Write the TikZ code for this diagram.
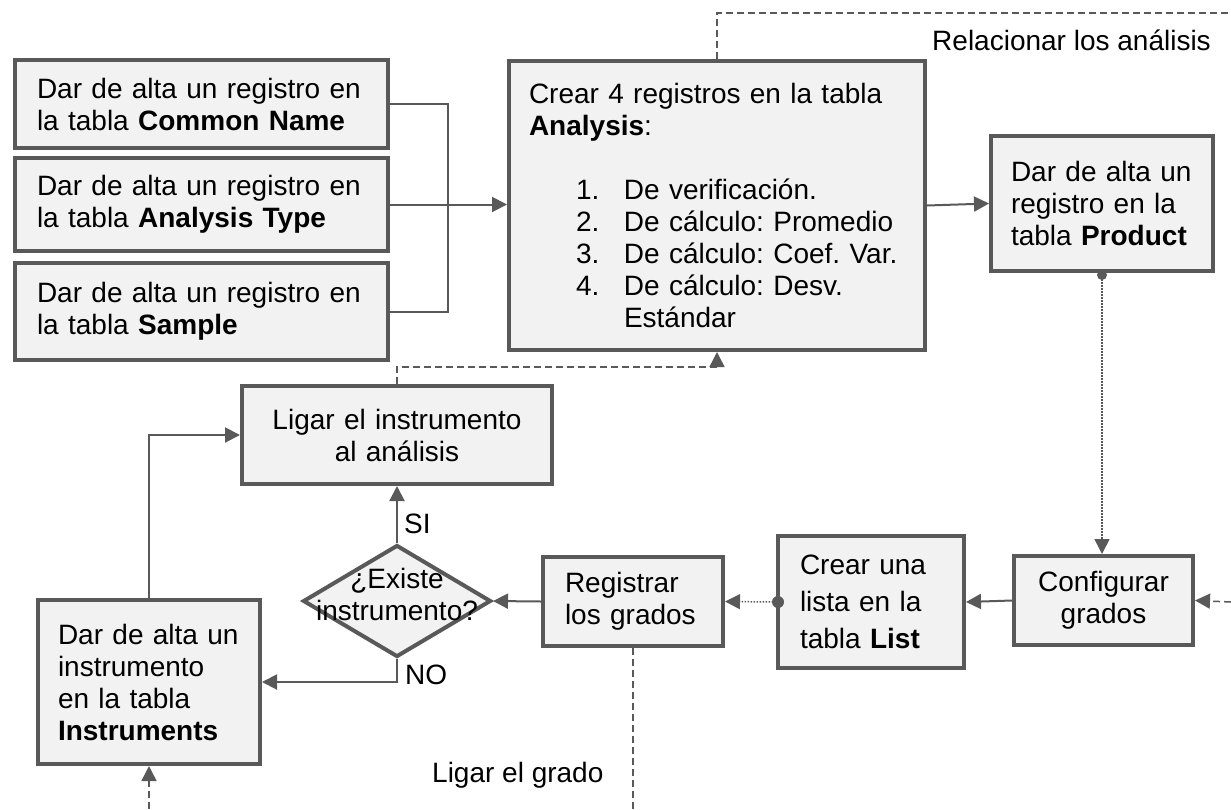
\documentclass[tikz,border=0pt]{standalone}
\usepackage{fontspec}
\setmainfont{Liberation Sans}
\usetikzlibrary{arrows.meta,shapes.geometric}
\definecolor{lineg}{RGB}{89,89,89}
\definecolor{fillg}{RGB}{242,242,242}
\begin{document}
\frenchspacing
\begin{tikzpicture}[x=1pt,y=-1pt,
 box/.style={draw=lineg, fill=fillg, line width=4pt, anchor=north west, inner xsep=22pt, inner ysep=0pt, font=\fontsize{28}{32}\selectfont, align=left},
 cbox/.style={box, align=center},
 lbl/.style={font=\fontsize{28}{32}\selectfont, inner sep=0pt},
 tip/.style={-{Triangle[length=15pt,width=15pt]}},
 conn/.style={draw=lineg, line width=2pt},
 dashln/.style={draw=lineg, line width=1.5pt, dash pattern=on 7pt off 4pt},
 dotln/.style={draw=lineg, line width=1.5pt, dash pattern=on 1.5pt off 1.5pt},
]
\useasboundingbox (0,0) rectangle (1231,809);

% boxes
\node[box, minimum width=373pt, minimum height=88pt, text width=329pt] (cn) at (13,58) {Dar de alta un registro en\\la tabla \textbf{Common Name}};
\node[box, minimum width=373pt, minimum height=93pt, text width=329pt] (at) at (13,156) {Dar de alta un registro en\\la tabla \textbf{Analysis Type}};
\node[box, minimum width=373pt, minimum height=97pt, text width=329pt] (sm) at (13,261) {Dar de alta un registro en\\la tabla \textbf{Sample}};
\node[box, inner xsep=20pt, minimum width=416pt, minimum height=289pt, text width=376pt] (an) at (507,59) {Crear 4 registros en la tabla\\
\textbf{Analysis}:\\[32pt]
\hspace*{47pt}\makebox[48pt][l]{1.}De verificación.\\
\hspace*{47pt}\makebox[48pt][l]{2.}De cálculo: Promedio\\
\hspace*{47pt}\makebox[48pt][l]{3.}De cálculo: Coef. Var.\\
\hspace*{47pt}\makebox[48pt][l]{4.}De cálculo: Desv.\\
\hspace*{95pt}Estándar};
\node[box, inner xsep=20pt, minimum width=222pt, minimum height=135pt, text width=182pt] (pr) at (989,134) {Dar de alta un\\registro en la\\tabla \textbf{Product}};
\node[cbox, minimum width=310pt, minimum height=98pt, text width=266pt] (lg) at (240,384) {Ligar el instrumento\\al análisis};
\node[box, inner xsep=20pt, minimum width=222pt, minimum height=164pt, text width=182pt] (in) at (36,598) {Dar de alta un\\instrumento\\en la tabla\\\textbf{Instruments}};
\node[box, minimum width=180pt, minimum height=89pt, text width=136pt] (rg) at (541,555) {Registrar\\los grados};
\node[box, minimum width=186pt, minimum height=132pt, text width=142pt, font=\fontsize{28}{37}\selectfont] (ls) at (776,534) {Crear una\\lista en la\\tabla \textbf{List}};
\node[cbox, minimum width=179pt, minimum height=89pt, text width=135pt] (cf) at (1012,554) {Configurar\\grados};
\node[diamond, draw=lineg, fill=fillg, line width=4pt, minimum width=188pt, minimum height=112pt, inner sep=0pt] (dia) at (397,601) {};
\node[lbl, align=center] (diat) at (397,594) {¿Existe\\instrumento?};

% connectors
\coordinate (jx) at (448,205);
\draw[conn] (cn.east) -| (jx) |- (sm.east);
\draw[conn,tip] (at.east) -- (at.east -| an.west);
\draw[conn,tip] (an.east) -- (pr.west);
\coordinate (rtop) at (1231,13);
\draw[dashln] (an.north) |- (rtop);
\node[lbl, anchor=base east] (rel) at (1211,50) {Relacionar los análisis};
\draw[dotln,tip] (pr.south) -- (pr.south |- cf.north);
\fill[lineg] ([yshift=-2pt]pr.south) circle (5pt);
\coordinate (rmid) at (1231,602);
\draw[dashln,tip] (rmid) -- (cf.east);
\draw[conn,tip] (cf.west) -- (ls.east);
\draw[dotln,tip] (ls.west) -- (rg.east);
\fill[lineg] ([xshift=2pt]ls.west) circle (6pt);
\draw[conn,tip] (rg.west) -- (dia.east);
\draw[conn,tip] (dia.north) -- (lg.south);
\node[lbl, anchor=base west] (si) at (404,533) {SI};
\draw[conn,tip] (dia.south) |- (in.east);
\node[lbl, anchor=base west] (no) at (405,684) {NO};
\draw[conn,tip] (in.north) |- (lg.west);
\coordinate (k1) at (397,367);
\draw[dashln,tip] (lg.north) -- (k1) -| (an.south);
\coordinate (rb) at (633,809);
\draw[dashln] (rg.south) -- (rb);
\coordinate (ib) at (149,809);
\draw[dashln,tip] (ib) -- (in.south);
\node[lbl, anchor=base west] (lgr) at (432,782) {Ligar el grado};
\end{tikzpicture}
\end{document}
